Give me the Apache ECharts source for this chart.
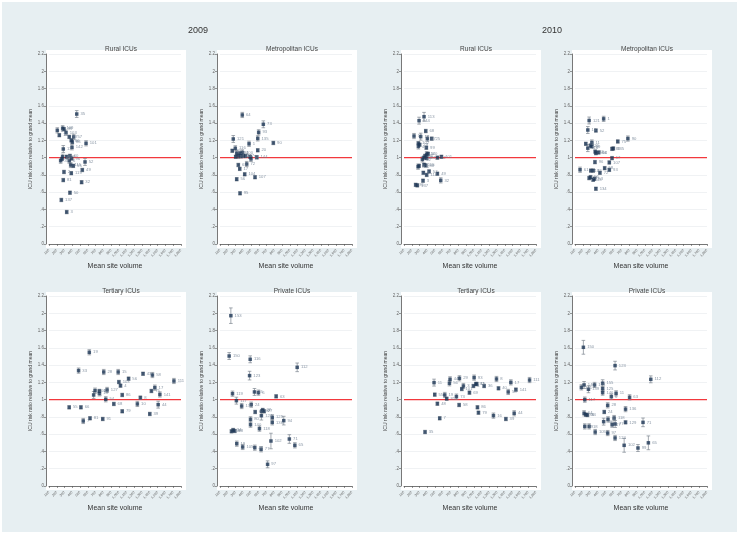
<!DOCTYPE html>
<html><head><meta charset="utf-8">
<script src="https://cdn.jsdelivr.net/npm/echarts@6/dist/echarts.min.js"></script>
<style>html,body{margin:0;padding:0;background:#fff}#c{width:740px;height:540px}</style>
</head><body><div id="c"></div>
<script>
// x-axis tick values (Mean site volume) and y-axis ticks
const xTicks = [100,200,300,400,500,600,700,800,900,1000,1100,1200,1300,1400,1500,1600,1700,1800];
const yTicks = [0,0.2,0.4,0.6,0.8,1,1.2,1.4,1.6,1.8,2,2.2];
const refLevel = 1;
const years = ['2009','2010'];
const panelTitles = ['Rural ICUs','Metropolitan ICUs','Rural ICUs','Metropolitan ICUs','Tertiary ICUs','Private ICUs','Tertiary ICUs','Private ICUs'];

// [mean site volume, ICU risk ratio, CI half-width, site id]
const rural2009 = [
[457,1.505,0.04,'35'],[207,1.316,0.03,'8'],[233,1.26,0.02,'14'],[276,1.34,0.03,'109'],[293,1.33,0.02,'99'],
[319,1.29,0.03,'103'],[361,1.24,0.02,'87'],[418,1.24,0.03,'57'],[387,1.20,0.02,'66'],[400,1.18,0.02,'86'],
[396,1.12,0.03,'142'],[284,1.10,0.04,'13'],[577,1.166,0.03,'101'],[276,1.01,0.03,'48'],[328,1.01,0.02,'23'],
[370,1.02,0.02,'60'],[392,0.99,0.02,'96'],[250,0.965,0.03,'47'],[267,0.985,0.02,'84'],[361,0.965,0.03,'6'],
[379,0.915,0.03,'115'],[413,0.905,0.02,'55'],[564,0.95,0.04,'52'],[293,0.834,0.02,'2'],[387,0.82,0.02,'119'],
[529,0.857,0.02,'49'],[284,0.74,0.02,'81'],[520,0.715,0.02,'32'],[370,0.594,0.02,'50'],[259,0.51,0.02,'137'],
[328,0.37,0.02,'3']];
const metro2009 = [
[387,1.494,0.03,'64'],[658,1.386,0.04,'73'],[598,1.293,0.03,'93'],[586,1.223,0.03,'135'],[271,1.216,0.04,'121'],
[787,1.17,0.02,'90'],[474,1.16,0.03,'1'],[586,1.085,0.02,'20'],[297,1.108,0.03,'116'],[258,1.08,0.02,'19'],
[315,1.05,0.03,'26'],[358,1.05,0.02,'94'],[387,1.06,0.03,'100'],[400,1.02,0.02,'36'],[302,1.01,0.02,'21'],
[336,1.02,0.03,'7'],[370,1.015,0.02,'12'],[430,1.02,0.02,'47'],[487,1.01,0.02,'58'],[573,1.005,0.02,'144'],
[499,0.985,0.03,'82'],[444,0.926,0.03,'72'],[336,0.915,0.02,'68'],[354,0.87,0.02,'17'],[418,0.807,0.02,'104'],
[551,0.773,0.02,'107'],[315,0.75,0.02,'56'],[358,0.587,0.02,'95']];
const rural2010 = [
[358,1.474,0.05,'113'],[294,1.428,0.04,'144'],[380,1.308,0.02,'68'],[229,1.25,0.03,'17'],[315,1.243,0.04,'18'],
[457,1.22,0.02,'25'],[401,1.22,0.03,'67'],[285,1.166,0.02,'102'],[302,1.15,0.02,'79'],[285,1.13,0.03,'46'],
[388,1.115,0.02,'99'],[337,0.98,0.03,'42'],[358,1.0,0.02,'60'],[371,1.02,0.02,'96'],[392,1.04,0.03,'140'],
[410,1.045,0.02,'6'],[392,0.995,0.02,'84'],[530,1.0,0.02,'52'],[582,1.01,0.02,'101'],[380,0.91,0.02,'88'],
[358,0.918,0.02,'115'],[281,0.895,0.03,'106'],[294,0.905,0.02,'47'],[349,0.825,0.02,'9'],[423,0.84,0.02,'57'],
[392,0.80,0.02,'114'],[530,0.814,0.02,'49'],[573,0.737,0.03,'32'],[345,0.733,0.02,'3'],[272,0.679,0.02,'137'],
[250,0.685,0.02,'81']];
const metro2010 = [
[469,1.449,0.03,'1'],[282,1.43,0.04,'121'],[265,1.32,0.04,'13'],[369,1.314,0.02,'52'],[239,1.16,0.02,'46'],
[265,1.11,0.04,'110'],[317,1.175,0.03,'11'],[317,1.13,0.02,'69'],[300,1.14,0.02,'26'],[369,1.052,0.02,'104'],
[360,1.07,0.02,'12'],[404,1.06,0.02,'94'],[651,1.187,0.02,'75'],[781,1.221,0.03,'90'],[577,1.102,0.02,'89'],
[594,1.106,0.02,'135'],[577,0.994,0.02,'17'],[542,0.944,0.02,'107'],[357,0.948,0.02,'96'],[542,0.859,0.02,'93'],
[482,0.878,0.02,'58'],[421,0.825,0.02,'72'],[165,0.86,0.03,'61'],[304,0.85,0.02,'102'],[334,0.85,0.02,'7'],
[282,0.763,0.02,'21'],[300,0.774,0.02,'56'],[352,0.755,0.02,'53'],[334,0.744,0.02,'43'],[369,0.64,0.02,'134']];
const tertiary2009 = [
[619,1.548,0.03,'19'],[481,1.336,0.03,'33'],[805,1.32,0.03,'28'],[991,1.32,0.03,'15'],[1311,1.30,0.02,'43'],
[1432,1.285,0.03,'58'],[1125,1.243,0.02,'56'],[1709,1.216,0.03,'111'],[1000,1.204,0.02,'103'],[1021,1.162,0.02,'4'],
[1463,1.139,0.03,'17'],[848,1.112,0.03,'127'],[749,1.073,0.03,'13'],[693,1.104,0.03,'106'],[675,1.054,0.04,'71'],
[749,1.10,0.02,'10'],[1043,1.054,0.02,'86'],[1419,1.10,0.02,'75'],[1528,1.06,0.03,'141'],[831,1.004,0.03,'54'],
[1277,1.023,0.02,'8'],[1238,0.95,0.03,'10'],[935,0.95,0.02,'68'],[1506,0.942,0.04,'44'],[360,0.911,0.02,'55'],
[511,0.911,0.02,'66'],[1043,0.865,0.02,'79'],[1398,0.834,0.02,'39'],[541,0.753,0.03,'7'],[628,0.784,0.02,'81'],
[792,0.776,0.02,'91']];
const private2009 = [
[240,1.972,0.09,'153'],[218,1.505,0.04,'150'],[489,1.467,0.04,'116'],[1094,1.374,0.05,'112'],[481,1.278,0.05,'123'],
[261,1.069,0.03,'119'],[544,1.089,0.04,'45'],[595,1.081,0.03,'6'],[823,1.038,0.02,'63'],[311,0.988,0.04,'117'],
[379,0.926,0.03,'130'],[502,0.942,0.03,'24'],[650,0.88,0.02,'22'],[667,0.865,0.02,'27'],[637,0.865,0.02,'47'],
[553,0.857,0.02,'86'],[633,0.814,0.05,'124'],[773,0.795,0.03,'125'],[773,0.737,0.03,'136'],[921,0.757,0.05,'94'],
[493,0.772,0.03,'80'],[493,0.71,0.03,'140'],[608,0.664,0.03,'118'],[248,0.633,0.02,'64'],[269,0.648,0.02,'34'],
[290,0.637,0.02,'88'],[993,0.544,0.05,'71'],[1064,0.471,0.03,'65'],[756,0.521,0.09,'102'],[316,0.49,0.03,'19'],
[392,0.452,0.03,'105'],[548,0.444,0.03,'48'],[629,0.425,0.03,'77'],[713,0.251,0.04,'97']];
const tertiary2010 = [
[487,1.197,0.04,'11'],[496,1.058,0.02,'55'],[530,0.953,0.02,'48'],[560,0.784,0.02,'7'],[371,0.625,0.02,'35'],
[625,1.054,0.03,'19'],[650,1.011,0.02,'81'],[693,1.235,0.03,'44'],[685,1.189,0.03,'56'],[814,1.247,0.03,'29'],
[775,1.035,0.03,'73'],[810,0.938,0.02,'58'],[844,1.123,0.02,'101'],[865,1.158,0.03,'3'],[1003,1.255,0.03,'93'],
[943,1.081,0.02,'69'],[994,1.158,0.02,'4'],[1025,1.181,0.02,'92'],[1037,1.181,0.02,'15'],[1132,1.158,0.02,'36'],
[1046,0.911,0.02,'86'],[1059,0.849,0.02,'79'],[1291,1.239,0.03,'8'],[1317,1.131,0.02,'40'],[1252,0.815,0.03,'16'],
[1442,1.089,0.03,'58'],[1476,1.2,0.03,'17'],[1541,1.116,0.02,'141'],[1412,0.776,0.02,'39'],[1519,0.842,0.03,'44'],
[1717,1.227,0.03,'111']];
const private2010 = [
[208,1.606,0.08,'150'],[616,1.394,0.05,'123'],[1076,1.235,0.04,'112'],[182,1.142,0.03,'141'],[217,1.17,0.04,'140'],
[273,1.12,0.04,'139'],[352,1.17,0.03,'108'],[456,1.19,0.04,'155'],[456,1.126,0.03,'125'],[456,1.081,0.03,'146'],
[629,1.073,0.03,'11'],[803,1.027,0.03,'63'],[568,1.035,0.03,'6'],[226,1.0,0.03,'117'],[521,0.934,0.03,'28'],
[751,0.89,0.03,'136'],[477,0.857,0.02,'24'],[217,0.842,0.03,'64'],[239,0.826,0.02,'88'],[260,0.822,0.02,'34'],
[604,0.787,0.03,'118'],[525,0.772,0.03,'86'],[469,0.745,0.04,'80'],[751,0.737,0.02,'129'],[617,0.718,0.04,'77'],
[578,0.71,0.03,'47'],[976,0.737,0.05,'71'],[226,0.69,0.03,'19'],[282,0.69,0.03,'18'],[360,0.625,0.03,'105'],
[521,0.613,0.03,'97'],[616,0.556,0.03,'124'],[733,0.471,0.08,'102'],[1045,0.50,0.08,'65'],[911,0.44,0.04,'99']];

const panelData = [rural2009, metro2009, rural2010, metro2010, tertiary2009, private2009, tertiary2010, private2010];

// layout
const axisLefts = [46, 217, 401, 572];
const rowTops = [54, 296];
const PW = 140, GH = 190;
const FONT = 'Liberation Sans, Arial, sans-serif';
const RED = '#f2383d';

const grids = [], xAxes = [], yAxes = [], series = [], titles = [], graphics = [];
graphics.push({type:'rect', left:2, top:2, shape:{width:735, height:530}, style:{fill:'#e7eff2'}, z:-10});
titles.push({text:years[0], left:193, top:21, textAlign:'center', textStyle:{fontSize:9, fontWeight:'normal', color:'#333', fontFamily:FONT}});
titles.push({text:years[1], left:547, top:21, textAlign:'center', textStyle:{fontSize:9, fontWeight:'normal', color:'#333', fontFamily:FONT}});

panelData.forEach((data, i) => {
  const col = i % 4, row = Math.floor(i / 4);
  const ax = axisLefts[col], top = rowTops[row];
  graphics.push({type:'rect', left:ax, top:top-4, shape:{width:PW, height:GH+8}, style:{fill:'#ffffff'}, z:-5});
  titles.push({text:panelTitles[i], left:ax+PW/2, top:top-13, textAlign:'center',
    textStyle:{fontSize:6.5, fontWeight:'normal', color:'#444', fontFamily:FONT}});
  grids.push({left:ax+3, top:top, width:132, height:GH});
  xAxes.push({type:'value', gridIndex:i, min:xTicks[0], max:xTicks[xTicks.length-1], interval:100, offset:4,
    name:'Mean site volume', nameLocation:'middle', nameGap:15,
    nameTextStyle:{fontSize:7, color:'#333', fontFamily:FONT},
    axisLine:{show:true, lineStyle:{color:'#555', width:0.8}},
    axisTick:{show:true, length:2, lineStyle:{color:'#555', width:0.6}},
    axisLabel:{show:true, rotate:45, fontSize:3.5, color:'#666', margin:2, fontFamily:FONT},
    splitLine:{show:false}});
  yAxes.push({type:'value', gridIndex:i, min:yTicks[0], max:yTicks[yTicks.length-1], interval:0.2, offset:3,
    name:'ICU risk ratio relative to grand mean', nameLocation:'middle', nameGap:13, nameRotate:90,
    nameTextStyle:{fontSize:5, color:'#444', fontFamily:FONT},
    axisLine:{show:true, lineStyle:{color:'#555', width:0.8}},
    axisTick:{show:true, length:2, lineStyle:{color:'#555', width:0.6}},
    axisLabel:{show:true, fontSize:4.5, color:'#666', margin:2, fontFamily:FONT,
      formatter: v => { const s = String(+v.toFixed(1)); return s.replace(/^0\./, '.'); }},
    splitLine:{show:true, lineStyle:{color:'#eceff1', width:0.8}}});
  // reference line at grand mean
  series.push({type:'line', xAxisIndex:i, yAxisIndex:i, silent:true, z:2, symbol:'none', color:RED,
    data:[[xTicks[0], refLevel],[xTicks[xTicks.length-1], refLevel]],
    lineStyle:{color:RED, width:1.3, opacity:1}, itemStyle:{color:RED}, emphasis:{disabled:true}});
  series.push({type:'custom', xAxisIndex:i, yAxisIndex:i, silent:true, z:3,
    data: data.map(d => [d[0], d[1]-d[2], d[1]+d[2]]),
    renderItem: (params, api) => {
      const x = api.value(0);
      const p1 = api.coord([x, api.value(2)]), p2 = api.coord([x, api.value(1)]);
      const w = 1.8, st = {stroke:'#7d858f', lineWidth:0.7};
      return {type:'group', children:[
        {type:'line', shape:{x1:p1[0], y1:p1[1], x2:p2[0], y2:p2[1]}, style:st},
        {type:'line', shape:{x1:p1[0]-w, y1:p1[1], x2:p1[0]+w, y2:p1[1]}, style:st},
        {type:'line', shape:{x1:p2[0]-w, y1:p2[1], x2:p2[0]+w, y2:p2[1]}, style:st}
      ]};
    }});
  series.push({type:'scatter', xAxisIndex:i, yAxisIndex:i, silent:true, z:4,
    symbol:'rect', symbolSize:3.5, itemStyle:{color:'#1d3655'},
    data: data.map(d => [d[0], d[1], d[3]]),
    label:{show:true, position:'right', distance:2, fontSize:4.2, color:'#6b7c8e', fontFamily:FONT,
      formatter: p => p.data[2]}});
});

const chart = echarts.init(document.getElementById('c'), null, {renderer:'canvas'});
chart.setOption({animation:false, backgroundColor:'#ffffff', title:titles, graphic:graphics,
  grid:grids, xAxis:xAxes, yAxis:yAxes, series:series});
</script></body></html>
